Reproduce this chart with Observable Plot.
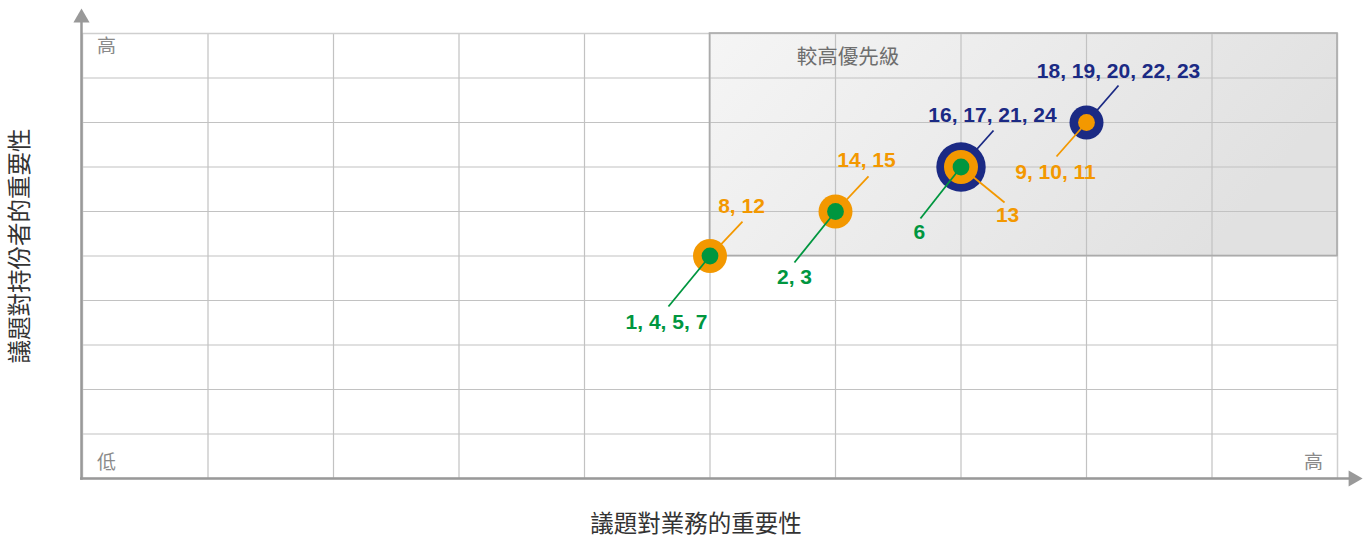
<!DOCTYPE html>
<html><head><meta charset="utf-8">
<script src="https://cdn.jsdelivr.net/npm/d3@7"></script>
<script src="https://cdn.jsdelivr.net/npm/@observablehq/plot@0.6"></script>
<style>html,body{margin:0;padding:0;background:#fff;} svg{display:block}</style>
</head><body><div id="chart"></div>
<script>
// ---- data ----
const seriesNames = ["green", "orange", "navy"];
const seriesColors = ["#00963f", "#f39800", "#1b2a84"];
const issueSeries = ["green", "orange", "green", "orange", "green", "orange", "navy", "orange", "navy"];
const issueX = [5, 5, 6, 6, 7, 7, 7, 8, 8];
const issueY = [5, 5, 6, 6, 7, 7, 7, 8, 8];
const issueLabels = ["1, 4, 5, 7", "8, 12", "2, 3", "14, 15", "6", "13", "16, 17, 21, 24", "9, 10, 11", "18, 19, 20, 22, 23"];
const leaderEndX = [4.669, 5.259, 5.673, 6.263, 6.677, 7.347, 7.259, 7.761, 8.255];
const leaderEndY = [3.865, 5.775, 4.854, 6.787, 5.843, 6.202, 7.820, 7.236, 8.831];
const labelX = [4.653, 5.251, 5.673, 6.247, 6.669, 7.371, 7.251, 7.753, 8.255];
const labelY = [3.506, 6.112, 4.517, 7.146, 5.528, 5.910, 8.157, 6.876, 9.146];
const gridTicks = [1, 2, 3, 4, 5, 6, 7, 8, 9];
const priorityX = [5, 10];
const priorityY = [5, 10];
const priorityText = ["較高優先級"];
const priorityTextX = [6.1];
const priorityTextY = [9.46];
const xTitle = "議題對業務的重要性";
const yTitle = "議題對持份者的重要性";
const lowText = "低";
const highText = "高";
const axisTipX = 10.2;
const axisTipY = 10.56;

// ---- build tables ----
const issues = issueLabels.map((label, i) => ({
  series: issueSeries[i], x: issueX[i], y: issueY[i], label,
  ex: leaderEndX[i], ey: leaderEndY[i], lx: labelX[i], ly: labelY[i]
}));
const rank = s => seriesNames.indexOf(s);
const layerRadius = [8.4, 17, 24.7];
issues.forEach(d => {
  d.depth = issues.filter(o => o.x === d.x && o.y === d.y && rank(o.series) < rank(d.series)).length;
  d.r = layerRadius[d.depth];
});
const colorOf = s => seriesColors[rank(s)];
const region = [{x1: priorityX[0], x2: priorityX[1], y1: priorityY[0], y2: priorityY[1]}];

const cjk = "Noto Sans CJK TC";
const layers = [];
for (const s of [...seriesNames].reverse()) {
  const sub = issues.filter(d => d.series === s);
  layers.push(Plot.link(sub, {x1: "x", y1: "y", x2: "ex", y2: "ey", stroke: colorOf(s), strokeWidth: 1.8}));
  for (const d of sub) {
    layers.push(Plot.dot([d], {x: "x", y: "y", r: d.r, fill: colorOf(s), stroke: "none"}));
  }
}

const chart = Plot.plot({
  width: 1370, height: 540,
  marginLeft: 82, marginRight: 33, marginTop: 33, marginBottom: 62,
  x: {domain: [0, 10], axis: null},
  y: {domain: [0, 10], axis: null},
  style: {background: "#fff"},
  marks: [
    Plot.rect(region, {x1: "x1", x2: "x2", y1: "y1", y2: "y2", fill: "url(#hp)"}),
    Plot.ruleX(gridTicks, {stroke: "#c2c2c2", strokeWidth: 1.2}),
    Plot.ruleY(gridTicks, {stroke: "#c2c2c2", strokeWidth: 1.2}),
    Plot.frame({stroke: "#cfcfcf", strokeWidth: 1.5}),
    Plot.rect(region, {x1: "x1", x2: "x2", y1: "y1", y2: "y2", fill: "none", stroke: "#ababab", strokeWidth: 1.6}),
    // axis lines with arrowheads
    Plot.link([0], {x1: -0.008, x2: -0.008, y1: -0.03, y2: axisTipY - 0.2, stroke: "#999", strokeWidth: 2.5}),
    Plot.link([0], {x1: -0.02, x2: axisTipX - 0.08, y1: 0, y2: 0, stroke: "#999", strokeWidth: 2.5}),
    Plot.dot([0], {x: -0.008, y: axisTipY, symbol: "triangle", r: 6, fill: "#999", dy: 9.3}),
    Plot.dot([0], {x: axisTipX, y: 0, symbol: "triangle", r: 6, fill: "#999", rotate: 90, dx: -9.3}),
    ...layers,
    Plot.text(issues, {x: "lx", y: "ly", text: "label", fill: d => colorOf(d.series),
      fontSize: 21, fontWeight: "bold", fontFamily: "Liberation Sans, Arial, sans-serif", textAnchor: "middle", lineAnchor: "middle"}),
    Plot.text(priorityText, {x: priorityTextX, y: priorityTextY, text: d => d, fill: "#6e6e6e", fontSize: 20.5, fontFamily: cjk, textAnchor: "middle", lineAnchor: "middle"}),
    Plot.text([highText], {frameAnchor: "top-left", text: d => d, dx: 24, dy: 13, fill: "#8a8a8a", fontSize: 19, fontFamily: cjk, textAnchor: "middle", lineAnchor: "middle"}),
    Plot.text([lowText], {frameAnchor: "bottom-left", text: d => d, dx: 24, dy: -15.5, fill: "#8a8a8a", fontSize: 19, fontFamily: cjk, textAnchor: "middle", lineAnchor: "middle"}),
    Plot.text([highText], {frameAnchor: "bottom-right", text: d => d, dx: -24, dy: -15.5, fill: "#8a8a8a", fontSize: 19, fontFamily: cjk, textAnchor: "middle", lineAnchor: "middle"}),
    Plot.text([xTitle], {frameAnchor: "bottom", text: d => d, dx: -14, dy: 46, fill: "#333", fontSize: 23.5, fontFamily: cjk, textAnchor: "middle", lineAnchor: "middle"}),
    Plot.text([yTitle], {frameAnchor: "left", text: d => d, dx: -62, dy: -10, rotate: -90, fill: "#333", fontSize: 23.5, fontFamily: cjk, textAnchor: "middle", lineAnchor: "middle"})
  ]
});

const svg = d3.select(chart);
const defs = svg.insert("defs", ":first-child");
const g = defs.append("linearGradient").attr("id", "hp").attr("x1", 0).attr("y1", 0).attr("x2", 1).attr("y2", 0.3);
g.append("stop").attr("offset", "0%").attr("stop-color", "#f5f5f5");
g.append("stop").attr("offset", "100%").attr("stop-color", "#e1e1e1");
document.getElementById("chart").appendChild(chart);
</script>
</body></html>
